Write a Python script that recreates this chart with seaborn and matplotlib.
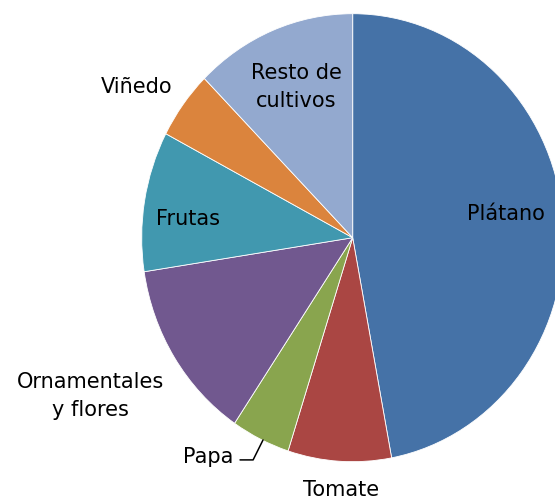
import matplotlib
matplotlib.use('Agg')
import matplotlib.pyplot as plt
import seaborn as sns

# cultivos (% de superficie)
cultivos = ['Plátano', 'Tomate', 'Papa', 'Ornamentales\ny flores',
            'Frutas', 'Viñedo', 'Resto de\ncultivos']
valores = [47.0, 7.9, 4.5, 13.1, 10.1, 4.9, 12.4]
colores = ['#4572A7', '#AA4643', '#89A54E', '#71588F',
           '#4198AF', '#DB843D', '#93A9CF']

sns.set_theme(style='white')
plt.rcParams['font.family'] = ['DejaVu Sans']

fig = plt.figure(figsize=(5.55, 5.03), dpi=100)
ax = fig.add_axes([0, 0, 1, 1])

ax.pie(
    valores,
    colors=colores,
    startangle=90,
    counterclock=False,
    wedgeprops=dict(edgecolor='white', linewidth=0.6),
)

# posiciones de etiquetas (coordenadas del eje)
pos_etiquetas = [(0.727, 0.106), (-0.055, -1.126), (-0.567, -0.979),
                 (-1.245, -0.707), (-0.781, 0.083), (-1.022, 0.673),
                 (-0.269, 0.673)]
alineacion = ['center', 'center', 'right', 'center', 'center', 'center', 'center']

for txt, (x, y), ha in zip(cultivos, pos_etiquetas, alineacion):
    ax.text(x, y, txt, ha=ha, va='center', fontsize=15, color='black',
            linespacing=1.45)

# linea guia de Papa
ax.plot([-0.534, -0.472, -0.425], [-0.992, -0.992, -0.903],
        color='black', lw=1.1)

ax.set_aspect('auto')
ax.set_xlim(-1.6716, 0.9588)
ax.set_ylim(-1.1844, 1.0612)
ax.axis('off')

fig.savefig('out.png', dpi=100)
